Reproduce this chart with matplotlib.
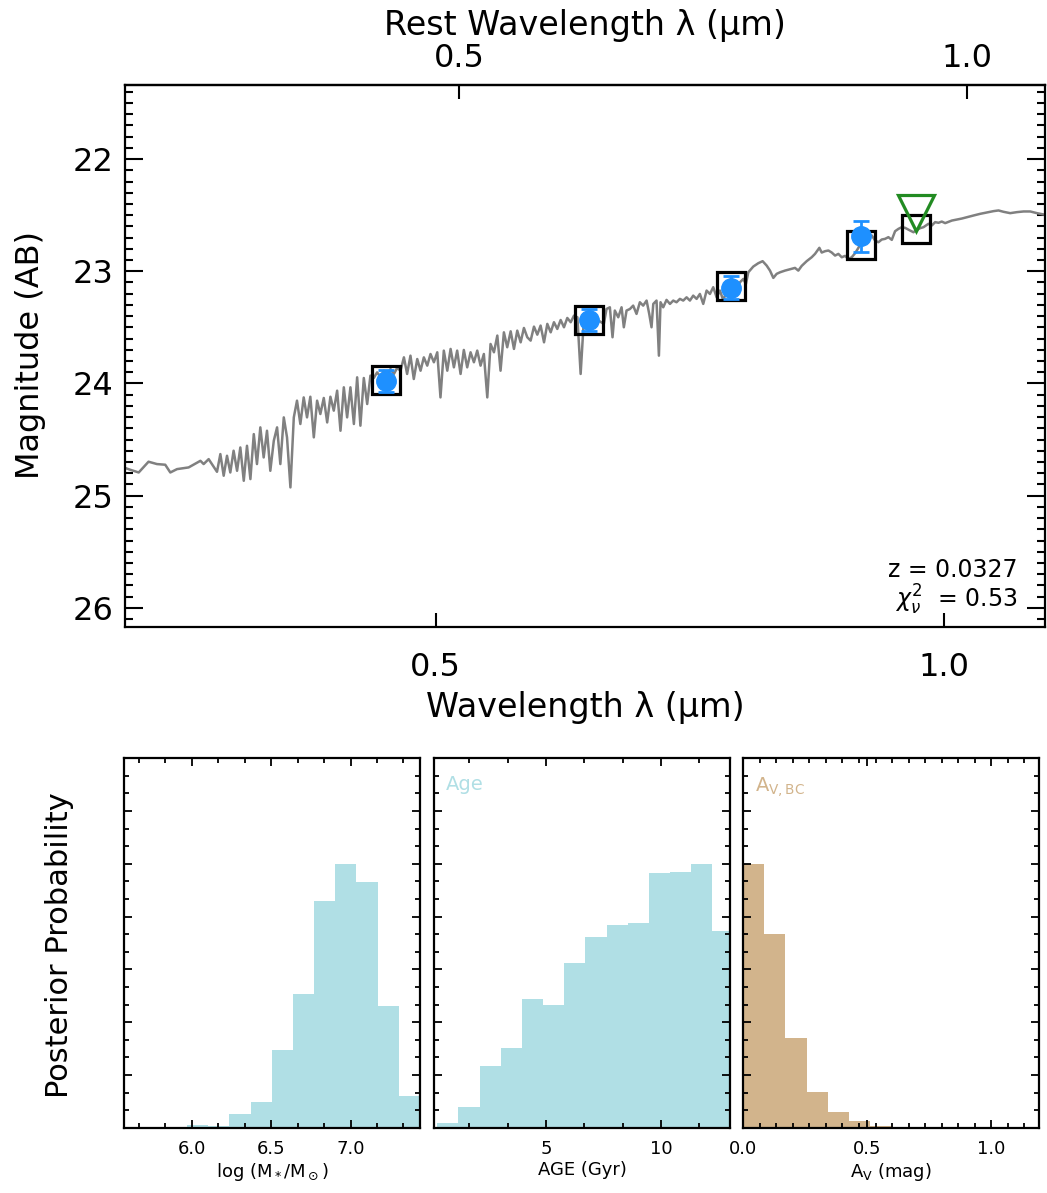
import matplotlib
matplotlib.use("Agg")
import matplotlib.pyplot as plt
from matplotlib.ticker import MultipleLocator, NullLocator, FixedLocator, NullFormatter, FormatStrFormatter

plt.rcParams['font.family'] = ['DejaVu Sans']
plt.rcParams['mathtext.fontset'] = 'dejavusans'

#  Source info
z = 0.0327
chi2 = 0.53

#  Model spectrum (observed wavelength, micron / AB mag)
spec_wave = [
    0.3266, 0.3296, 0.3334, 0.3379, 0.3418, 0.3457, 0.3481, 0.3513, 0.3569, 0.3627, 0.3643, 0.3668,
    0.3710, 0.3727, 0.3744, 0.3761, 0.3778, 0.3795, 0.3813, 0.3830, 0.3848, 0.3865,
    0.3883, 0.3901, 0.3918, 0.3936, 0.3954, 0.3972, 0.3990, 0.4009, 0.4027, 0.4045,
    0.4064, 0.4082, 0.4101, 0.4120, 0.4138, 0.4157, 0.4176, 0.4195, 0.4214, 0.4234,
    0.4253, 0.4272, 0.4292, 0.4312, 0.4331, 0.4351, 0.4371, 0.4391, 0.4411, 0.4431,
    0.4451, 0.4472, 0.4492, 0.4512, 0.4533, 0.4554, 0.4574, 0.4595, 0.4616, 0.4637,
    0.4659, 0.4680, 0.4701, 0.4723, 0.4744, 0.4766, 0.4788, 0.4809, 0.4831, 0.4853,
    0.4876, 0.4898, 0.4920, 0.4943, 0.4965, 0.4988, 0.5011, 0.5033, 0.5056, 0.5080,
    0.5103, 0.5126, 0.5149, 0.5173, 0.5196, 0.5220, 0.5244, 0.5268, 0.5292, 0.5316,
    0.5340, 0.5365, 0.5389, 0.5414, 0.5439, 0.5463, 0.5488, 0.5513, 0.5539, 0.5564,
    0.5589, 0.5615, 0.5640, 0.5666, 0.5692, 0.5718, 0.5744, 0.5770, 0.5797, 0.5823,
    0.5850, 0.5876, 0.5903, 0.5930, 0.5957, 0.5984, 0.6012, 0.6039, 0.6067, 0.6094,
    0.6122, 0.6150, 0.6178,
    0.6290, 0.6313, 0.6342, 0.6365, 0.6385, 0.6415, 0.6444, 0.6464, 0.6488, 0.6518,
    0.6547, 0.6577, 0.6607, 0.6637, 0.6668, 0.6692, 0.6713, 0.6729, 0.6759, 0.6781,
    0.6796, 0.6821, 0.6852, 0.6884, 0.6915, 0.6946, 0.6978, 0.7010, 0.7042, 0.7074,
    0.7106, 0.7139, 0.7171, 0.7204, 0.7237, 0.7270, 0.7303, 0.7337, 0.7370, 0.7404,
    0.7437, 0.7471, 0.7505, 0.7540, 0.7574, 0.7609, 0.7636, 0.7661, 0.7713, 0.7766,
    0.7812, 0.7855, 0.7891, 0.7927, 0.7963, 0.8000, 0.8054, 0.8110, 0.8165, 0.8202,
    0.8240, 0.8296, 0.8353, 0.8391, 0.8418, 0.8441, 0.8468, 0.8507, 0.8546, 0.8585,
    0.8624, 0.8663, 0.8703, 0.8742, 0.8782, 0.8822, 0.8863, 0.8903, 0.8944, 0.8984,
    0.9025, 0.9067, 0.9108, 0.9150, 0.9191, 0.9233, 0.9275, 0.9318, 0.9360, 0.9403,
    0.9446, 0.9489, 0.9554, 0.9598, 0.9641, 0.9685, 0.9730, 0.9796, 0.9841, 0.9886,
    0.9931, 0.9976, 1.0022, 1.0068, 1.0114, 1.0183, 1.0253, 1.0323, 1.0417, 1.0513,
    1.0609, 1.0706, 1.0779, 1.0853, 1.0952, 1.1053, 1.1154, 1.1256, 1.1359, 1.1463,
    1.1520,
]
spec_mag = [
    24.748, 24.769, 24.793, 24.697, 24.718, 24.724, 24.793, 24.763, 24.748, 24.689, 24.718, 24.674,
    24.787, 24.629, 24.822, 24.644, 24.793, 24.599, 24.778, 24.570, 24.867, 24.555,
    24.852, 24.451, 24.718, 24.391, 24.659, 24.421, 24.778, 24.510, 24.391, 24.718,
    24.302, 24.480, 24.926, 24.302, 24.153, 24.361, 24.124, 24.302, 24.118, 24.480,
    24.153, 24.272, 24.129, 24.347, 24.118, 24.242, 24.064, 24.421, 24.034, 24.302,
    24.034, 24.361, 23.945, 24.376, 23.951, 24.183, 23.930, 23.951, 23.901, 23.939,
    23.886, 23.930, 23.871, 23.915, 23.862, 23.886, 23.767, 23.915, 23.752, 23.960,
    23.782, 23.886, 23.767, 23.841, 23.737, 23.811, 23.722, 24.124, 23.707, 23.886,
    23.692, 23.856, 23.707, 23.915, 23.701, 23.856, 23.722, 23.811, 23.707, 23.841,
    23.737, 24.124, 23.648, 23.722, 23.573, 23.886, 23.544, 23.677, 23.535, 23.692,
    23.529, 23.633, 23.505, 23.588, 23.618, 23.493, 23.565, 23.484, 23.633, 23.469,
    23.544, 23.454, 23.514, 23.434, 23.499, 23.416, 23.454, 23.395, 23.410, 23.915,
    23.410, 23.380, 23.395,
    23.469, 23.336, 23.321, 23.588, 23.350, 23.410, 23.321, 23.499, 23.350, 23.336,
    23.306, 23.380, 23.276, 23.306, 23.261, 23.380, 23.499, 23.291, 23.261, 23.752,
    23.276, 23.321, 23.255, 23.291, 23.261, 23.276, 23.246, 23.261, 23.232, 23.261,
    23.217, 23.246, 23.202, 23.291, 23.172, 23.202, 23.142, 23.232, 23.172, 23.261,
    23.172, 23.202, 23.142, 23.172, 23.098, 23.068, 23.113, 23.009, 22.958, 22.928,
    22.910, 22.949, 22.994, 23.059, 23.023, 23.009, 22.994, 22.982, 22.970, 22.994,
    22.952, 22.910, 22.875, 22.845, 22.815, 22.791, 22.833, 22.821, 22.815, 22.833,
    22.860, 22.845, 22.875, 22.863, 22.890, 22.875, 22.839, 22.791, 22.732, 22.711,
    22.696, 22.681, 22.726, 22.741, 22.717, 22.711, 22.696, 22.720, 22.643, 22.622,
    22.607, 22.613, 22.637, 22.652, 22.631, 22.616, 22.607, 22.577, 22.592, 22.562,
    22.568, 22.557, 22.571, 22.560, 22.548, 22.539, 22.530, 22.518, 22.503, 22.488,
    22.476, 22.464, 22.458, 22.470, 22.482, 22.473, 22.467, 22.467, 22.482, 22.494,
    22.500,
]

#  Photometry
phot_wave = [0.467, 0.616, 0.748, 0.893]
phot_mag = [23.980, 23.435, 23.145, 22.690]
phot_err = [0.10, 0.10, 0.10, 0.14]
model_wave = [0.467, 0.616, 0.748, 0.893, 0.963]
model_mag = [23.966, 23.434, 23.134, 22.768, 22.625]
lim_wave = [0.963]
lim_mag = [22.48]

#  Posterior histograms (peak normalised)
mass_edges = [5.970, 6.103, 6.237, 6.370, 6.503, 6.637, 6.770, 6.904, 7.037, 7.171, 7.304, 7.438]
mass_prob = [0.009, 0.007, 0.052, 0.096, 0.294, 0.506, 0.861, 1.000, 0.933, 0.460, 0.120]

age_edges = [0.275, 1.195, 2.115, 3.035, 3.955, 4.875, 5.795, 6.715, 7.635, 8.555,
             9.475, 10.395, 11.315, 12.235, 13.155]
age_prob = [0.016, 0.078, 0.233, 0.303, 0.486, 0.464, 0.624, 0.721, 0.770, 0.774,
            0.965, 0.968, 1.000, 0.745]

av_edges = [0.0, 0.085, 0.170, 0.256, 0.341, 0.426, 0.511, 0.596]
av_prob = [1.000, 0.733, 0.339, 0.136, 0.061, 0.027, 0.006]

BLUE = '#1E90FF'
GREEN = '#228B22'
HIST_BLUE = '#B0DFE5'
TAN = '#D2B48C'

W, H = 1047, 1193
fig = plt.figure(figsize=(W / 100, H / 100), dpi=100)

#  SED panel
ax = fig.add_axes([124.5 / W, 1 - 627 / H, (1045 - 124.5) / W, (627 - 85) / H])
ax.plot(spec_wave, spec_mag, color='#808080', lw=1.8, zorder=2)
ax.plot(model_wave, model_mag, 's', mfc='none', mec='k', ms=20, mew=2.3, zorder=3)
ax.errorbar(phot_wave, phot_mag, yerr=phot_err, fmt='o', color=BLUE, ms=14,
            elinewidth=2, capsize=6, capthick=2, zorder=4)
ax.plot(lim_wave, lim_mag, 'v', mfc='none', mec=GREEN, ms=26, mew=2.3, zorder=5)

ax.set_xscale('log')
ax.set_xlim(0.327, 1.1485)
ax.set_ylim(26.17, 21.34)
ax.xaxis.set_major_locator(FixedLocator([0.5, 1.0]))
ax.xaxis.set_minor_locator(NullLocator())
ax.set_xticklabels(['0.5', '1.0'])
ax.yaxis.set_major_locator(MultipleLocator(1))
ax.yaxis.set_minor_locator(MultipleLocator(0.1))
ax.tick_params(axis='y', which='both', direction='in', left=True, right=True, width=1.5)
ax.tick_params(axis='y', which='major', length=13, labelsize=23, pad=8)
ax.tick_params(axis='y', which='minor', length=6)
ax.tick_params(axis='x', which='major', direction='in', length=10, width=1.5,
               labelsize=23, pad=18)
for s in ax.spines.values():
    s.set_linewidth(1.6)

sec = ax.secondary_xaxis('top', functions=(lambda x: x / (1 + z), lambda x: x * (1 + z)))
sec.xaxis.set_major_locator(FixedLocator([0.5, 1.0]))
sec.xaxis.set_minor_locator(NullLocator())
sec.set_xticklabels(['0.5', '1.0'])
sec.tick_params(axis='x', which='major', direction='in', length=10, width=1.5,
                labelsize=23, pad=8)
sec.spines['top'].set_linewidth(1.6)

fig.text(585 / W, 1 - 25 / H, 'Rest Wavelength λ (μm)', ha='center', va='center',
         fontsize=24)
fig.text(585 / W, 1 - 708 / H, 'Wavelength λ (μm)', ha='center', va='center',
         fontsize=24)
fig.text(30 / W, 1 - 355 / H, 'Magnitude (AB)', rotation=90, ha='center', va='center',
         fontsize=23)

ax.text(0.970, 0.105, f'z = {z:.4f}', transform=ax.transAxes, ha='right', va='center',
        fontsize=17)
ax.text(0.970, 0.050, r'$\chi^2_\nu$  = ' + f'{chi2:.2f}', transform=ax.transAxes,
        ha='right', va='center', fontsize=17)

#  Posterior panels
bot = 1 - 1127.7 / H
hgt = (1127.7 - 758.3) / H
panels = [
    (124.0, mass_edges, mass_prob, HIST_BLUE, (5.572, 7.438), 0.5, 0.5 / 3, '%.1f',
     r'log (M$_*$/M$_\odot$)', None),
    (434.0, age_edges, age_prob, HIST_BLUE, (0.13, 13.0), 5, 5 / 3, '%.0f',
     'AGE (Gyr)', 'Age'),
    (743.3, av_edges, av_prob, TAN, (0.0, 1.194), 0.5, 1 / 15, '%.1f',
     r'A$_\mathrm{V}$ (mag)', r'A$_\mathrm{V,BC}$'),
]
for left, edges, prob, col, xlim, major, minor, fmt, xlab, tag in panels:
    a = fig.add_axes([left / W, bot, 296.0 / W, hgt])
    a.stairs(prob, edges, fill=True, color=col, lw=0, zorder=1)
    a.set_xlim(*xlim)
    a.set_ylim(0, 1.4)
    a.xaxis.set_major_locator(MultipleLocator(major))
    a.xaxis.set_minor_locator(MultipleLocator(minor))
    a.xaxis.set_major_formatter(FormatStrFormatter(fmt))
    a.yaxis.set_major_locator(MultipleLocator(0.2))
    a.yaxis.set_minor_locator(MultipleLocator(0.2 / 3))
    a.yaxis.set_major_formatter(NullFormatter())
    a.tick_params(which='both', direction='in', top=True, right=True, width=1.3)
    a.tick_params(which='major', length=6, labelsize=13, pad=9)
    a.tick_params(which='minor', length=3.5)
    for s in a.spines.values():
        s.set_linewidth(1.6)
    a.set_xlabel(xlab, fontsize=13, labelpad=2)
    if tag:
        a.text(0.04, 0.955, tag, transform=a.transAxes, color=col, fontsize=14,
               ha='left', va='top')

fig.text(60 / W, 1 - 945 / H, 'Posterior Probability', rotation=90, ha='center',
         va='center', fontsize=22)

fig.savefig('out.png', dpi=100)
